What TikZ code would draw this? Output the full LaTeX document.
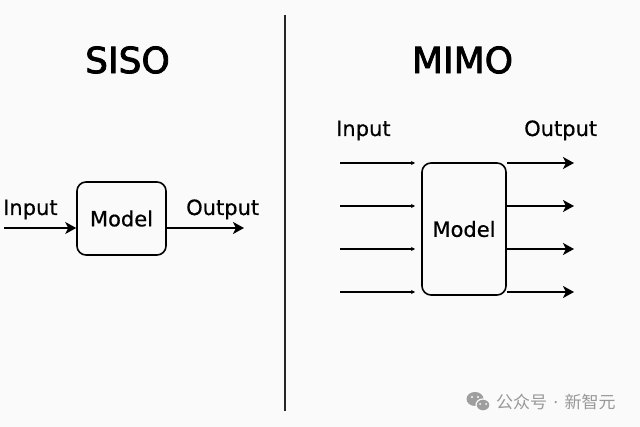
\documentclass[tikz,border=0pt]{standalone}
\usepackage{fontspec}
\setmainfont{DejaVu Sans}
\newfontfamily\titlefont[FakeBold=2.2]{DejaVu Sans}
\newfontfamily\lblfont[FakeBold=0.5]{DejaVu Sans}
\newfontfamily\cjkfont{Noto Sans CJK SC}
\usetikzlibrary{arrows.meta}
\begin{document}
\begin{tikzpicture}[x=1pt,y=-1pt,
  lbl/.style={font=\lblfont\fontsize{21}{24}\selectfont, inner sep=0pt},
  ttl/.style={font=\titlefont\fontsize{36}{40}\selectfont, inner sep=0pt},
  modelbox/.style={draw, line width=1.6pt, rounded corners=9pt, inner sep=0pt, font=\lblfont\fontsize{21}{24}\selectfont},
  bigarrow/.style={line width=1.6pt, -{Stealth[length=11pt,width=12pt,inset=3pt]}},
  smallarrow/.style={line width=1.3pt, -{Stealth[length=4pt,width=4pt]}},
  wm/.style={font=\cjkfont\fontsize{17}{20}\selectfont, text=black!40, inner sep=0pt}
]
\useasboundingbox[fill=black!2] (0,0) rectangle (640,427);

% divider
\coordinate (dtop) at (285,15);
\coordinate (dbot) at (285,411);
\draw[line width=1.5pt, black!85] (dtop) -- (dbot);

% titles
\node[ttl] (siso) at (127.5,60) {SISO};
\node[ttl] (mimo) at (462.5,60) {MIMO};

% SISO
\node[modelbox, minimum width=89pt, minimum height=73pt] (m1) at (121.5,218.5) {Model};
\node[lbl, anchor=base west] (in1) at (3,215) {Input};
\node[lbl, anchor=base west] (out1) at (186,215) {Output};
\coordinate (s1) at (4,228);
\coordinate (e1) at (244,228);
\draw[bigarrow] (s1) -- (s1 -| m1.west);
\draw[bigarrow] (e1 -| m1.east) -- (e1);

% MIMO
\node[modelbox, minimum width=84pt, minimum height=132pt] (m2) at (464,229) {Model};
\node[lbl, anchor=base west] (in2) at (336,136) {Input};
\node[lbl, anchor=base west] (out2) at (524,136) {Output};
\foreach \y [count=\i] in {163,206,249,292}{
  \coordinate (a\i) at (340,\y);
  \coordinate (b\i) at (415,\y);
  \coordinate (c\i) at (574,\y);
  \draw[smallarrow] (a\i) -- (b\i);
  \draw[bigarrow] (c\i -| m2.east) -- (c\i);
}

% watermark
\fill[black!38] (475,399) ellipse [x radius=8.5pt, y radius=7pt];
\fill[black!38, draw=black!2, line width=1.2pt] (483,405) ellipse [x radius=7pt, y radius=6pt];
\fill[black!2] (472,397) circle (1.1pt) (478,397) circle (1.1pt) (480,404) circle (1pt) (486,404) circle (1pt);
\node[wm, anchor=west] (wmtext) at (496,402) {公众号\hspace{6pt}{\rmfamily ·}\hspace{6pt}新智元};
\end{tikzpicture}
\end{document}
